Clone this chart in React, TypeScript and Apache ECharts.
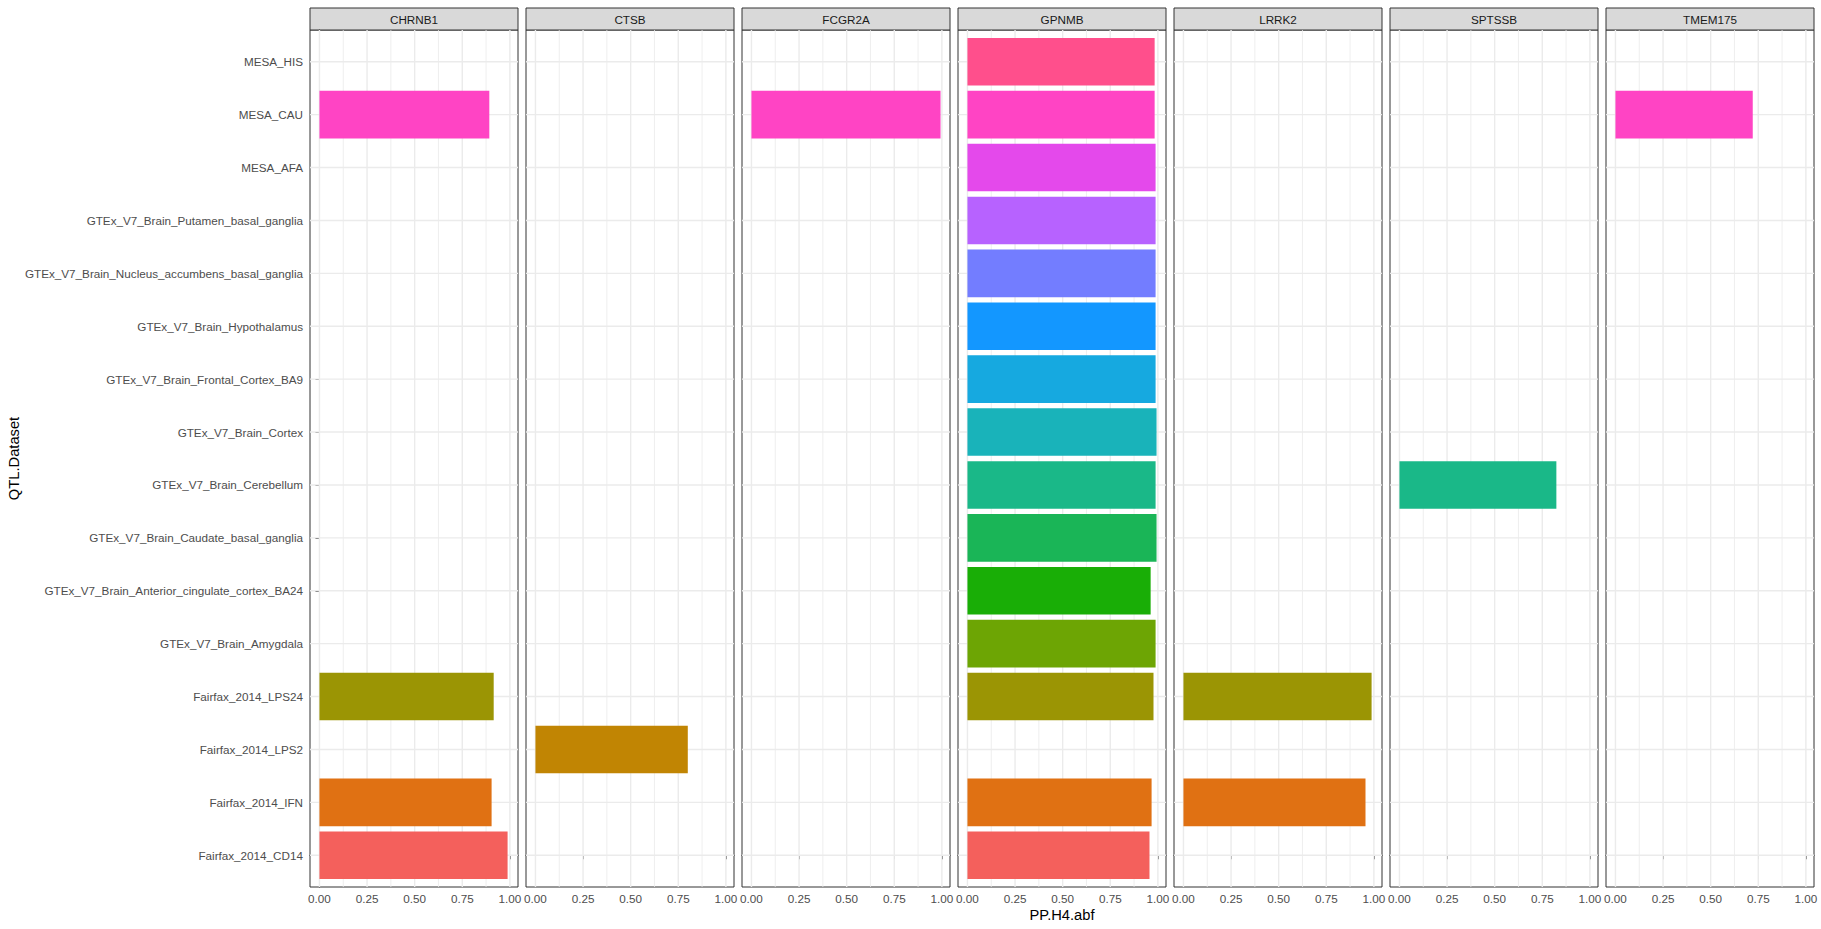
import React, { useEffect, useRef } from "react";
import * as echarts from "echarts";

// ---------- data ----------
const categories = [
  "Fairfax_2014_CD14",
  "Fairfax_2014_IFN",
  "Fairfax_2014_LPS2",
  "Fairfax_2014_LPS24",
  "GTEx_V7_Brain_Amygdala",
  "GTEx_V7_Brain_Anterior_cingulate_cortex_BA24",
  "GTEx_V7_Brain_Caudate_basal_ganglia",
  "GTEx_V7_Brain_Cerebellum",
  "GTEx_V7_Brain_Cortex",
  "GTEx_V7_Brain_Frontal_Cortex_BA9",
  "GTEx_V7_Brain_Hypothalamus",
  "GTEx_V7_Brain_Nucleus_accumbens_basal_ganglia",
  "GTEx_V7_Brain_Putamen_basal_ganglia",
  "MESA_AFA",
  "MESA_CAU",
  "MESA_HIS",
];

const categoryColors = [
  "#F4605C",
  "#E07113",
  "#C18503",
  "#9B9504",
  "#6DA504",
  "#19AE06",
  "#1AB557",
  "#1AB888",
  "#19B3BA",
  "#16A9E0",
  "#1397FF",
  "#737DFF",
  "#B762FF",
  "#E449EB",
  "#FF44C4",
  "#FF4F8C",
];

const genes = ["CHRNB1", "CTSB", "FCGR2A", "GPNMB", "LRRK2", "SPTSSB", "TMEM175"];

const chrnb1: [string, number][] = [
  ["MESA_CAU", 0.892],
  ["Fairfax_2014_LPS24", 0.915],
  ["Fairfax_2014_IFN", 0.904],
  ["Fairfax_2014_CD14", 0.988],
];
const ctsb: [string, number][] = [["Fairfax_2014_LPS2", 0.8]];
const fcgr2a: [string, number][] = [["MESA_CAU", 0.993]];
const gpnmb: [string, number][] = [
  ["MESA_HIS", 0.983],
  ["MESA_CAU", 0.983],
  ["MESA_AFA", 0.988],
  ["GTEx_V7_Brain_Putamen_basal_ganglia", 0.988],
  ["GTEx_V7_Brain_Nucleus_accumbens_basal_ganglia", 0.988],
  ["GTEx_V7_Brain_Hypothalamus", 0.988],
  ["GTEx_V7_Brain_Frontal_Cortex_BA9", 0.988],
  ["GTEx_V7_Brain_Cortex", 0.993],
  ["GTEx_V7_Brain_Cerebellum", 0.988],
  ["GTEx_V7_Brain_Caudate_basal_ganglia", 0.993],
  ["GTEx_V7_Brain_Anterior_cingulate_cortex_BA24", 0.962],
  ["GTEx_V7_Brain_Amygdala", 0.988],
  ["Fairfax_2014_LPS24", 0.977],
  ["Fairfax_2014_IFN", 0.967],
  ["Fairfax_2014_CD14", 0.956],
];
const lrrk2: [string, number][] = [
  ["Fairfax_2014_LPS24", 0.988],
  ["Fairfax_2014_IFN", 0.956],
];
const sptssb: [string, number][] = [["GTEx_V7_Brain_Cerebellum", 0.824]];
const tmem175: [string, number][] = [["MESA_CAU", 0.721]];

const geneData = [chrnb1, ctsb, fcgr2a, gpnmb, lrrk2, sptssb, tmem175];

const xTicks = [0, 0.25, 0.5, 0.75, 1];
const xMinorTicks = [0.125, 0.375, 0.625, 0.875];

// ---------- layout ----------
const FONT = "'Liberation Sans', Arial, Helvetica, sans-serif";
const PANEL_LEFT = 310;
const PANEL_W = 208;
const PANEL_GAP = 8;
const PANEL_TOP = 30;
const PANEL_H = 857;
const STRIP_TOP = 8;
const STRIP_H = 22;

export default function App() {
  const ref = useRef<HTMLDivElement>(null);

  useEffect(() => {
    if (!ref.current) return;
    const chart = echarts.init(ref.current, null, { renderer: "svg" });

    const allValues = geneData.flatMap((d) => d.map((r) => r[1]));
    const maxV = Math.max(...allValues);
    const xMin = -0.05 * maxV;
    const xMax = 1.05 * maxV;
    const yMin = -0.6;
    const yMax = categories.length - 1 + 0.6;

    const grids: any[] = [];
    const xAxes: any[] = [];
    const yAxes: any[] = [];
    const series: any[] = [];
    const graphics: any[] = [];

    const gridLineData: number[][] = [
      ...xMinorTicks.map((v) => [v, 0, 0]),
      ...xTicks.map((v) => [v, 0, 1]),
      ...categories.map((_, i) => [i, 1, 1]),
    ];

    genes.forEach((gene, gi) => {
      const left = PANEL_LEFT + gi * (PANEL_W + PANEL_GAP);
      grids.push({
        left,
        top: PANEL_TOP,
        width: PANEL_W,
        height: PANEL_H,
        show: true,
        borderColor: "#333333",
        borderWidth: 1,
        backgroundColor: "#FFFFFF",
        containLabel: false,
      });
      xAxes.push({
        type: "value",
        gridIndex: gi,
        min: xMin,
        max: xMax,
        axisLine: { show: true, lineStyle: { color: "#333333", width: 1 } },
        axisTick: {
          show: true,
          customValues: xTicks,
          length: 4,
          lineStyle: { color: "#333333", width: 1 },
        },
        axisLabel: {
          show: true,
          customValues: xTicks,
          formatter: (v: number) => v.toFixed(2),
          color: "#4D4D4D",
          fontSize: 11.7,
          fontFamily: FONT,
          margin: 5,
        },
        splitLine: { show: false },
        minorSplitLine: { show: false },
      });
      const first = gi === 0;
      yAxes.push({
        type: "value",
        gridIndex: gi,
        min: yMin,
        max: yMax,
        axisLine: { show: first, lineStyle: { color: "#333333", width: 1 } },
        axisTick: {
          show: first,
          customValues: categories.map((_, i) => i),
          length: 4,
          lineStyle: { color: "#333333", width: 1 },
        },
        axisLabel: {
          show: first,
          customValues: categories.map((_, i) => i),
          formatter: (v: number) => categories[Math.round(v)] ?? "",
          color: "#4D4D4D",
          fontSize: 11.7,
          fontFamily: FONT,
          margin: 7,
        },
        splitLine: { show: false },
      });

      // grid lines
      series.push({
        type: "custom",
        xAxisIndex: gi,
        yAxisIndex: gi,
        z: 1,
        silent: true,
        data: gridLineData,
        renderItem: (params: any, api: any) => {
          const v = api.value(0) as number;
          const horiz = api.value(1) === 1;
          const major = api.value(2) === 1;
          const a = horiz ? api.coord([xMin, v]) : api.coord([v, yMin]);
          const b = horiz ? api.coord([xMax, v]) : api.coord([v, yMax]);
          return {
            type: "line",
            shape: { x1: a[0], y1: a[1], x2: b[0], y2: b[1] },
            style: { stroke: "#EBEBEB", lineWidth: major ? 1.4 : 0.8 },
          };
        },
      });

      // bars
      const rows = geneData[gi].map(([cat, val]) => [val, categories.indexOf(cat)]);
      series.push({
        type: "custom",
        name: gene,
        xAxisIndex: gi,
        yAxisIndex: gi,
        z: 2,
        data: rows,
        encode: { x: 0, y: 1 },
        renderItem: (params: any, api: any) => {
          const v = api.value(0) as number;
          const ci = api.value(1) as number;
          const p0 = api.coord([0, ci]);
          const p1 = api.coord([v, ci]);
          const h = api.size([0, 0.9])[1];
          return {
            type: "rect",
            shape: { x: p0[0], y: p0[1] - h / 2, width: p1[0] - p0[0], height: h },
            style: { fill: categoryColors[ci] },
          };
        },
      });

      // facet strip
      graphics.push({
        type: "rect",
        shape: { x: left, y: STRIP_TOP, width: PANEL_W, height: STRIP_H },
        style: { fill: "#D9D9D9", stroke: "#333333", lineWidth: 1 },
        silent: true,
      });
      graphics.push({
        type: "text",
        x: left + PANEL_W / 2,
        y: STRIP_TOP + STRIP_H / 2,
        style: {
          text: gene,
          fill: "#1A1A1A",
          font: `11.7px ${FONT}`,
          textAlign: "center",
          textVerticalAlign: "middle",
        },
        silent: true,
      });
    });

    const plotRight = PANEL_LEFT + genes.length * PANEL_W + (genes.length - 1) * PANEL_GAP;
    graphics.push({
      type: "text",
      x: (PANEL_LEFT + plotRight) / 2,
      y: 915,
      style: {
        text: "PP.H4.abf",
        fill: "#000000",
        font: `14.7px ${FONT}`,
        textAlign: "center",
        textVerticalAlign: "middle",
      },
      silent: true,
    });
    graphics.push({
      type: "text",
      x: 14,
      y: PANEL_TOP + PANEL_H / 2,
      rotation: Math.PI / 2,
      style: {
        text: "QTL.Dataset",
        fill: "#000000",
        font: `14.7px ${FONT}`,
        textAlign: "center",
        textVerticalAlign: "middle",
      },
      silent: true,
    });

    chart.setOption({
      animation: false,
      backgroundColor: "#FFFFFF",
      textStyle: { fontFamily: FONT },
      grid: grids,
      xAxis: xAxes,
      yAxis: yAxes,
      series,
      graphic: graphics,
    });

    return () => chart.dispose();
  }, []);

  return (
    <div
      ref={ref}
      style={{ position: "fixed", left: 0, top: 0, width: 1821, height: 929 }}
    />
  );
}
